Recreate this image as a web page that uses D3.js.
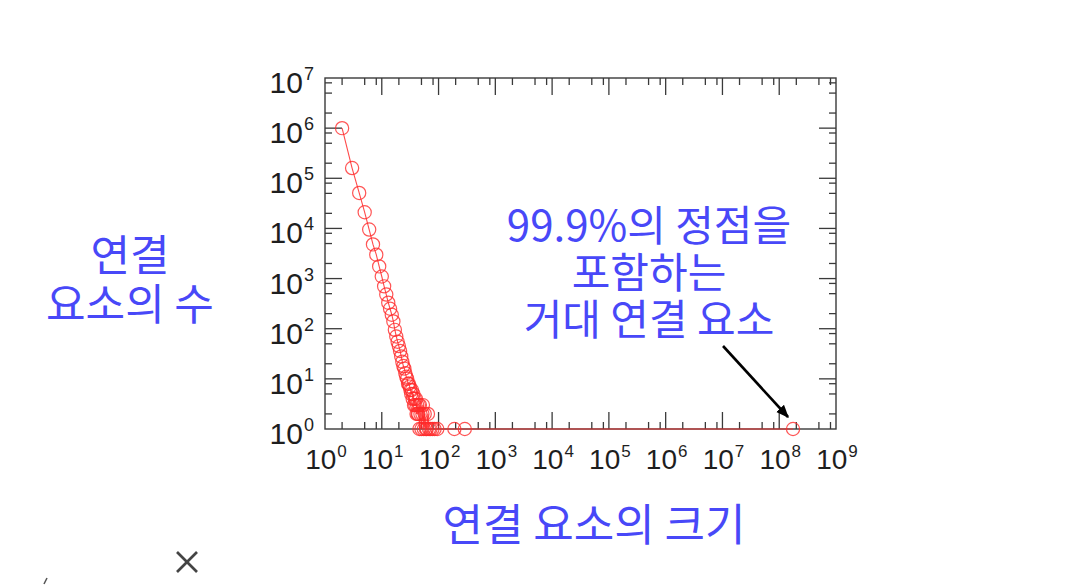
<!DOCTYPE html>
<html><head><meta charset="utf-8">
<script src="https://cdn.jsdelivr.net/npm/d3@7"></script>
<style>body{margin:0;background:#fff} svg{display:block}</style>
</head><body>
<svg id="c" width="1084" height="586"></svg>
<script>
// component sizes and number of components of that size
const sizes = [2,3,4,5,6,7,8,9,10,11,12,13,14,15,16,17,18,19,20,21,22,23,24,25,26,27,28,29,30,31,32,33,34,35,36,37,38,39,40,41,42,43,44,45,46,47,48,50,52,53,55,57,60,62,65,68,72,78,85,95,190,290,175000000];
const counts = [1000000,160000,51000,21000,9500,4800,3000,1750,1100,700,480,330,250,190,140,95,70,55,45,36,28,22,18,16,13,11,10,8,8,7,6,5,6,4,5,3,4,3,4,2,3,2,2,3,1,3,2,1,2,3,1,2,1,1,2,1,1,1,1,1,1,1,1];
const xTickExponents = [0,1,2,3,4,5,6,7,8,9];
const yTickExponents = [0,1,2,3,4,5,6,7];
const minorMultiples = [2,5,8];
const yTitleLines = ["연결","요소의 수"];
const xTitle = "연결 요소의 크기";
const noteLines = ["99.9%의 정점을","포함하는","거대 연결 요소"];

const svg = d3.select("#c");
const x = d3.scaleLog().domain([1,1e9]).range([325,836]);
const y = d3.scaleLog().domain([1,1e7]).range([429,78]);
const X0 = x.range()[0], X1 = x.range()[1], Y0 = y.range()[0], Y1 = y.range()[1];
const majorLen = 17, minorLen = 7;
const axisCol = "#3a3a3a";

// frame
svg.append("rect").attr("x",X0).attr("y",Y1).attr("width",X1-X0).attr("height",Y0-Y1)
  .attr("fill","none").attr("stroke",axisCol).attr("stroke-width",1.4);

// ticks (inward, on all four sides)
const gT = svg.append("g").attr("stroke",axisCol).attr("stroke-width",1.3);
xTickExponents.forEach(e=>{
  const v = Math.pow(10,e);
  const xs = x(v);
  if(e>0 && e<9){
    gT.append("line").attr("x1",xs).attr("x2",xs).attr("y1",Y0).attr("y2",Y0-majorLen);
    gT.append("line").attr("x1",xs).attr("x2",xs).attr("y1",Y1).attr("y2",Y1+majorLen);
  }
  if(e<9) minorMultiples.forEach(m=>{
    const xm = x(v*m);
    gT.append("line").attr("x1",xm).attr("x2",xm).attr("y1",Y0).attr("y2",Y0-minorLen);
    gT.append("line").attr("x1",xm).attr("x2",xm).attr("y1",Y1).attr("y2",Y1+minorLen);
  });
});
yTickExponents.forEach(e=>{
  const v = Math.pow(10,e);
  const ys = y(v);
  if(e>0 && e<7){
    gT.append("line").attr("y1",ys).attr("y2",ys).attr("x1",X0).attr("x2",X0+majorLen);
    gT.append("line").attr("y1",ys).attr("y2",ys).attr("x1",X1).attr("x2",X1-majorLen);
  }
  if(e<7) minorMultiples.forEach(m=>{
    const ym = y(v*m);
    gT.append("line").attr("y1",ym).attr("y2",ym).attr("x1",X0).attr("x2",X0+minorLen);
    gT.append("line").attr("y1",ym).attr("y2",ym).attr("x1",X1).attr("x2",X1-minorLen);
  });
});

// tick labels
const lblFont = "'Liberation Sans', Arial, sans-serif";
xTickExponents.forEach(e=>{
  const t = svg.append("text").attr("x",x(Math.pow(10,e))+1).attr("y",Y0+40)
    .attr("text-anchor","middle").attr("font-family",lblFont).attr("fill","#1e1e1e");
  t.append("tspan").attr("font-size",28).text("10");
  t.append("tspan").attr("font-size",17).attr("dy",-12).attr("dx",1).text(e);
});
yTickExponents.forEach(e=>{
  const t = svg.append("text").attr("x",X0-11).attr("y",y(Math.pow(10,e))+15)
    .attr("text-anchor","end").attr("font-family",lblFont).attr("fill","#1e1e1e");
  t.append("tspan").attr("font-size",30).text("10");
  t.append("tspan").attr("font-size",18).attr("dy",-13).attr("dx",1).text(e);
});

// data
const data = sizes.map((s,i)=>({s, c:counts[i]}));
svg.append("path").datum(data)
  .attr("d", d3.line().x(d=>x(d.s)).y(d=>y(d.c)))
  .attr("fill","none").attr("stroke","#ff2a2a").attr("stroke-width",1.1).attr("stroke-opacity",0.85);
svg.append("g").selectAll("circle").data(data).join("circle")
  .attr("cx",d=>x(d.s)).attr("cy",d=>y(d.c)).attr("r",6.6)
  .attr("fill","none").attr("stroke","#ff2a2a").attr("stroke-width",1.2).attr("stroke-opacity",0.8);

// titles
const cjk = "'Noto Sans CJK KR', 'Noto Sans', sans-serif";
const blue = "#4848f8";
yTitleLines.forEach((s,i)=>{
  svg.append("text").attr("x",130).attr("y",271+i*49).attr("text-anchor","middle")
    .attr("font-family",cjk).attr("font-size",43).attr("fill",blue).text(s);
});
svg.append("text").attr("x",594).attr("y",541).attr("text-anchor","middle")
  .attr("font-family",cjk).attr("font-size",44).attr("fill",blue).text(xTitle);
noteLines.forEach((s,i)=>{
  svg.append("text").attr("x",649).attr("y",241+i*47).attr("text-anchor","middle")
    .attr("font-family",cjk).attr("font-size",42).attr("fill",blue).text(s);
});

// arrow to the giant component
const last = data[data.length-1];
const tipX = x(last.s)-5, tipY = y(last.c)-12;
svg.append("defs").append("marker").attr("id","ah").attr("viewBox","0 0 10 10")
  .attr("refX",9).attr("refY",5).attr("markerWidth",5).attr("markerHeight",5)
  .attr("orient","auto").append("path").attr("d","M0,1 L10,5 L0,9 Z").attr("fill","#000");
svg.append("line").attr("x1",tipX-65).attr("y1",tipY-71).attr("x2",tipX).attr("y2",tipY)
  .attr("stroke","#000").attr("stroke-width",2.6).attr("marker-end","url(#ah)");

// close icon and small mark at the bottom-left
svg.append("g").attr("stroke","#444").attr("stroke-width",2.6).call(g=>{
  g.append("line").attr("x1",177).attr("y1",552).attr("x2",197).attr("y2",572);
  g.append("line").attr("x1",197).attr("y1",552).attr("x2",177).attr("y2",572);
});
svg.append("line").attr("x1",44).attr("y1",584).attr("x2",47).attr("y2",578)
  .attr("stroke","#555").attr("stroke-width",1.5);
</script>
</body></html>
